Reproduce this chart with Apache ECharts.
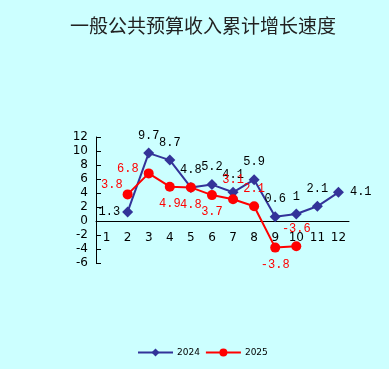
<!DOCTYPE html>
<html><head><meta charset="utf-8">
<script src="https://cdn.jsdelivr.net/npm/echarts@6/dist/echarts.min.js"></script>
<style>html,body{margin:0;padding:0;background:#CCFFFF;}#c{width:389px;height:369px;}</style>
</head><body><div id="c"></div>
<script>
var titleText = '一般公共预算收入累计增长速度';
var months = ['1','2','3','4','5','6','7','8','9','10','11','12'];
var seriesNames = ['2024','2025'];
var values2024 = [null, 1.3, 9.7, 8.7, 4.8, 5.2, 4.1, 5.9, 0.6, 1, 2.1, 4.1];
var values2025 = [null, 3.8, 6.8, 4.9, 4.8, 3.7, 3.1, 2.1, -3.8, -3.6, null, null];
var yTicks = {min: -6, max: 12, interval: 2};

var pos2024 = ['top','left','top','top','top','top','top','top','top','top','top','right'];
var pos2025 = ['top','left','left','bottom','bottom','bottom','top','top','bottom','top','top','top'];
var shift2025 = [[0,0],[2,-10],[-3,-5],[0,0],[0,0],[0,0],[0,-2],[0,0],[0,0],[0,0],[0,0],[0,0]];

function build(vals, pos, color, shift) {
  return vals.map(function (v, i) {
    return {value: v, label: {position: pos[i], color: color,
      distance: pos[i] === 'left' ? 2 : 6, offset: shift ? shift[i] : [0, 0]}};
  });
}

var chart = echarts.init(document.getElementById('c'));
chart.setOption({
  backgroundColor: '#CCFFFF',
  animation: false,
  title: {text: titleText, left: 65, top: 11,
    textStyle: {fontFamily: 'Noto Sans CJK SC', fontSize: 19, fontWeight: 'normal', color: '#222'}},
  legend: {top: 343, left: 132, itemWidth: 35, itemHeight: 10, itemGap: 5,
    textStyle: {fontSize: 9, color: '#000', fontFamily: 'DejaVu Sans', padding: [0, 0, 0, -1]},
    data: seriesNames},
  grid: {left: 96, top: 137, width: 253, height: 126, containLabel: false},
  xAxis: {type: 'category', data: months, boundaryGap: true,
    axisLine: {onZero: true, lineStyle: {color: '#000', width: 1}},
    axisTick: {inside: true, length: 5, alignWithLabel: false, lineStyle: {color: '#000'}},
    axisLabel: {color: '#000', fontSize: 12, margin: -31, fontFamily: 'DejaVu Sans'},
    splitLine: {show: false}},
  yAxis: {type: 'value', min: yTicks.min, max: yTicks.max, interval: yTicks.interval,
    axisLine: {show: true, lineStyle: {color: '#000', width: 1}},
    axisTick: {show: true, inside: true, length: 5, lineStyle: {color: '#000'}},
    axisLabel: {color: '#000', fontSize: 12, margin: 8, fontFamily: 'DejaVu Sans'},
    splitLine: {show: false}},
  series: [
    {name: seriesNames[0], type: 'line', data: build(values2024, pos2024, '#000'),
      symbol: 'diamond', symbolSize: 11, connectNulls: false,
      itemStyle: {color: '#333399'}, lineStyle: {color: '#333399', width: 2},
      label: {show: true, fontSize: 12, fontFamily: 'Liberation Mono'}},
    {name: seriesNames[1], type: 'line', data: build(values2025, pos2025, '#FF0000', shift2025),
      symbol: 'circle', symbolSize: 10, connectNulls: false,
      itemStyle: {color: '#FF0000'}, lineStyle: {color: '#FF0000', width: 2},
      label: {show: true, fontSize: 12, fontFamily: 'Liberation Mono'}}
  ]
});
</script></body></html>
